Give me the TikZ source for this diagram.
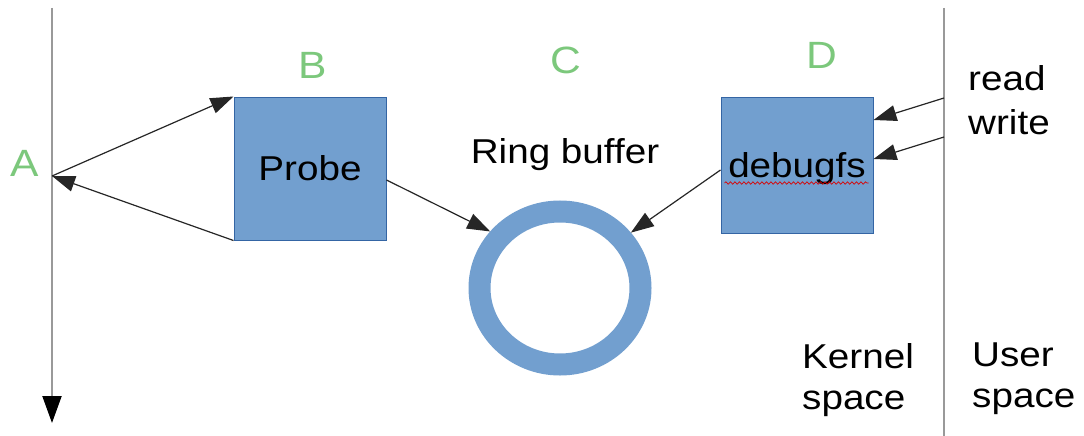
\documentclass[tikz,border=0pt]{standalone}
\usepackage{fontspec}
\setmainfont{Liberation Sans}[FakeStretch=1.12]
\usetikzlibrary{arrows.meta,shapes.geometric,decorations.pathmorphing}
\definecolor{boxblue}{HTML}{729FCF}
\definecolor{boxedge}{HTML}{3465A4}
\definecolor{lblgreen}{HTML}{7CC87C}
\definecolor{axisgray}{HTML}{999999}
\begin{document}
\begin{tikzpicture}[x=1pt,y=-1pt,
  every node/.style={font=\fontsize{34.5}{40}\selectfont, inner sep=0},
  blk/.style={draw=boxedge, fill=boxblue, line width=1pt, inner sep=0},
  lbl/.style={text=lblgreen, font=\fontsize{38}{44}\selectfont},
  conn/.style={draw=black!85, line width=1.2pt, -{Triangle[length=23pt,width=16pt]}},
  axisline/.style={draw=axisgray, line width=2pt}]
\useasboundingbox (0,0) rectangle (1084,436);
\fill[white] (0,0) rectangle (1084,436);

\coordinate (ltop) at (52,8);
\coordinate (lbot) at (52,423);
\coordinate (Apt) at (52,176);
\coordinate (rtop) at (944,8);
\coordinate (rbot) at (944,436);
\coordinate (rd) at (944,98);
\coordinate (wr) at (944,137);

\draw[axisline, -{Triangle[length=27pt,width=19pt,color=black]}] (ltop) -- (lbot);
\draw[axisline] (rtop) -- (rbot);

\node[lbl] (la) at (25,163) {A};
\node[lbl] (lb) at (313,65) {B};
\node[lbl] (lc) at (566,60) {C};
\node[lbl] (ld) at (822,55) {D};

\node[blk, minimum width=152pt, minimum height=143pt] (probe) at (310,168.5) {Probe};
\node[blk, minimum width=152pt, minimum height=136pt, text depth=0pt] (dbg) at (797,165) {debugfs};
\draw[red!85!black, line width=0.7pt, decorate, decoration={snake, amplitude=1.2pt, segment length=4.5pt}]
  ([xshift=4pt,yshift=-18pt]dbg.west) -- ([xshift=-5pt,yshift=-18pt]dbg.east);

\node[draw=boxblue, line width=22pt, ellipse, minimum width=161pt, minimum height=153pt] (ring) at (560,288) {};
\node (rbuf) at (565,155) {Ring buffer};

\draw[conn] (Apt) -- (probe.north west);
\draw[conn] (probe.south west) -- (Apt);
\draw[conn] ([yshift=-11.5pt]probe.east) -- (ring.141);
\draw[conn] ([yshift=-5pt]dbg.west) -- (ring.38);
\draw[conn] (rd) -- ([yshift=45pt]dbg.east);
\draw[conn] (wr) -- ([yshift=6pt]dbg.east);

\node[anchor=base west] (rdl) at (968,91) {read};
\node[anchor=base west] (wrl) at (968,134) {write};
\node[anchor=north west, align=left, font=\fontsize{34.5}{41}\selectfont] (kern) at (802,343) {Kernel\\space};
\node[anchor=north west, align=left, font=\fontsize{34.5}{41}\selectfont] (user) at (972,343) {User\\space};
\end{tikzpicture}
\end{document}
